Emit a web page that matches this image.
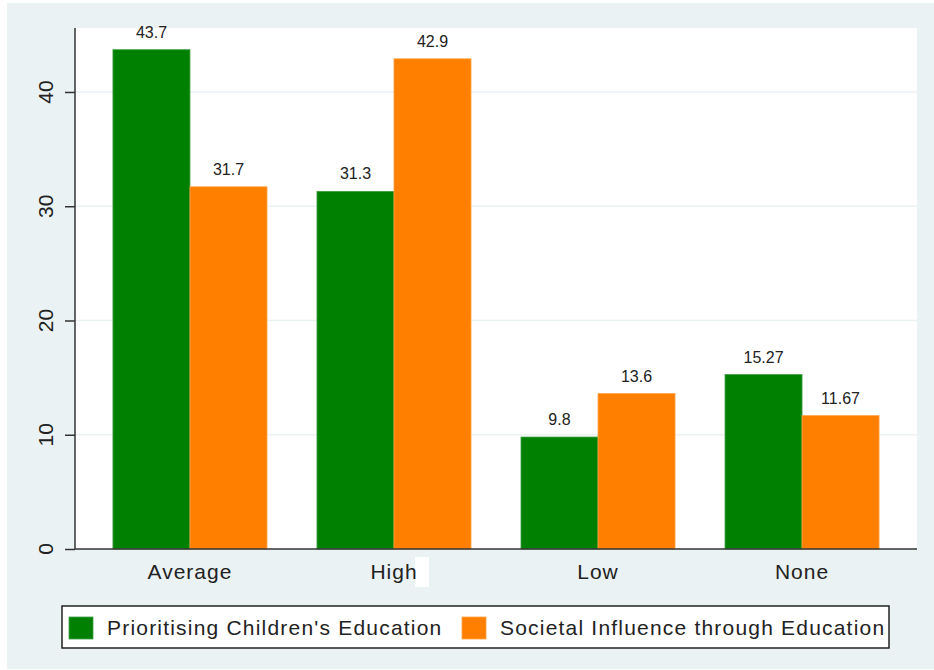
<!DOCTYPE html>
<html>
<head>
<meta charset="utf-8">
<script src="https://cdn.jsdelivr.net/npm/d3@7"></script>
<style>
  body { margin: 0; background: #ffffff; }
  text { font-family: 'Liberation Sans', Arial, sans-serif; fill: #222; }
</style>
</head>
<body>
<div id="chart"></div>
<script>
var categories = ['Average', 'High', 'Low', 'None']
var seriesNames = ["Prioritising Children's Education", 'Societal Influence through Education']
var educationValues = [43.7, 31.3, 9.8, 15.27]
var influenceValues = [31.7, 42.9, 13.6, 11.67]
var valueLabels = [['43.7', '31.3', '9.8', '15.27'], ['31.7', '42.9', '13.6', '11.67']]
var yTicks = [0, 10, 20, 30, 40]

var width = 934
var height = 670
var margin = { top: 28, left: 75, right: 17, bottom: 121 }

var svg = d3
  .select('#chart')
  .append('svg')
  .attr('width', width)
  .attr('height', height)

// outer graph region
svg
  .append('rect')
  .attr('x', 7)
  .attr('y', 3)
  .attr('width', width - 7)
  .attr('height', height - 4)
  .attr('fill', '#eaf2f3')

var plotW = width - margin.left - margin.right
var plotH = height - margin.top - margin.bottom

var g = svg
  .append('g')
  .attr('transform', 'translate(' + margin.left + ',' + margin.top + ')')

g.append('rect')
  .attr('width', plotW)
  .attr('height', plotH)
  .attr('fill', '#ffffff')

var yScale = d3
  .scaleLinear()
  .domain([0, 45.6])
  .range([plotH, 0])

var xScale = d3
  .scaleBand()
  .domain(categories)
  .range([0, plotW])
  .paddingInner(0.245)
  .paddingOuter(0.186)

var subScale = d3
  .scaleBand()
  .domain([0, 1])
  .range([0, xScale.bandwidth()])

var colorScale = d3
  .scaleOrdinal()
  .domain([0, 1])
  .range(['#008000', '#ff8000'])

// grid lines
g.selectAll('.grid')
  .data(yTicks.filter(d => d > 0))
  .enter()
  .append('line')
  .attr('class', 'grid')
  .attr('x1', 0)
  .attr('x2', plotW)
  .attr('y1', d => yScale(d))
  .attr('y2', d => yScale(d))
  .attr('stroke', '#eaf2f3')
  .attr('stroke-width', 1.5)

var rows = categories.map((c, i) => ({
  category: c,
  values: [educationValues[i], influenceValues[i]],
  labels: [valueLabels[0][i], valueLabels[1][i]]
}))

var groups = g
  .selectAll('.group')
  .data(rows)
  .enter()
  .append('g')
  .attr('class', 'group')
  .attr('transform', d => 'translate(' + xScale(d.category) + ',0)')

groups
  .selectAll('rect')
  .data(d => d.values.map((v, k) => ({ k: k, v: v, label: d.labels[k] })))
  .enter()
  .append('rect')
  .attr('x', d => subScale(d.k))
  .attr('y', d => yScale(d.v))
  .attr('width', subScale.bandwidth())
  .attr('height', d => plotH - yScale(d.v))
  .attr('fill', d => colorScale(d.k))
  .attr('stroke', d => (d.k === 0 ? '#3f9f3f' : '#ffa040'))
  .attr('stroke-width', 0.8)

groups
  .selectAll('.bar-label')
  .data(d => d.values.map((v, k) => ({ k: k, v: v, label: d.labels[k] })))
  .enter()
  .append('text')
  .attr('class', 'bar-label')
  .attr('x', d => subScale(d.k) + subScale.bandwidth() / 2)
  .attr('y', d => yScale(d.v) - 12)
  .attr('text-anchor', 'middle')
  .attr('font-size', 16)
  .text(d => d.label)

// y axis
var yAxis = g
  .append('g')
  .call(
    d3
      .axisLeft(yScale)
      .tickValues(yTicks)
      .tickSize(10)
      .tickFormat('')
  )
yAxis.select('.domain').remove()
yAxis.selectAll('line').attr('stroke', '#333').attr('stroke-width', 1.5)

g.append('line')
  .attr('x1', 0)
  .attr('x2', 0)
  .attr('y1', 0)
  .attr('y2', plotH)
  .attr('stroke', '#333')
  .attr('stroke-width', 1.5)

g.selectAll('.y-label')
  .data(yTicks)
  .enter()
  .append('text')
  .attr('class', 'y-label')
  .attr('transform', d => 'translate(-22,' + yScale(d) + ') rotate(-90)')
  .attr('text-anchor', 'middle')
  .attr('font-size', 21)
  .text(d => d)

// x axis
g.append('line')
  .attr('x1', 0)
  .attr('x2', plotW)
  .attr('y1', plotH)
  .attr('y2', plotH)
  .attr('stroke', '#333')
  .attr('stroke-width', 1.5)

// odd white patch beside "High" in the original
g.append('rect')
  .attr('x', xScale('High') + xScale.bandwidth() / 2 + 21)
  .attr('y', plotH + 8)
  .attr('width', 14)
  .attr('height', 30)
  .attr('fill', '#ffffff')

g.selectAll('.x-label')
  .data(categories)
  .enter()
  .append('text')
  .attr('class', 'x-label')
  .attr('x', d => xScale(d) + xScale.bandwidth() / 2)
  .attr('y', plotH + 30)
  .attr('text-anchor', 'middle')
  .attr('font-size', 21)
  .attr('letter-spacing', 1)
  .text(d => d)

// legend
var legend = svg.append('g').attr('transform', 'translate(62,606)')

legend
  .append('rect')
  .attr('width', 827)
  .attr('height', 42)
  .attr('fill', '#ffffff')
  .attr('stroke', '#222')
  .attr('stroke-width', 1.5)

var legendX = [7, 400]

legend
  .selectAll('.swatch')
  .data(seriesNames)
  .enter()
  .append('rect')
  .attr('class', 'swatch')
  .attr('x', (d, i) => legendX[i])
  .attr('y', 11)
  .attr('width', 24)
  .attr('height', 22)
  .attr('fill', (d, i) => colorScale(i))
  .attr('stroke', (d, i) => (i === 0 ? '#3f9f3f' : '#ffa040'))
  .attr('stroke-width', 0.8)

legend
  .selectAll('.legend-text')
  .data(seriesNames)
  .enter()
  .append('text')
  .attr('class', 'legend-text')
  .attr('x', (d, i) => legendX[i] + 38)
  .attr('y', 29)
  .attr('font-size', 21)
  .attr('letter-spacing', 1.2)
  .text(d => d)
</script>
</body>
</html>
